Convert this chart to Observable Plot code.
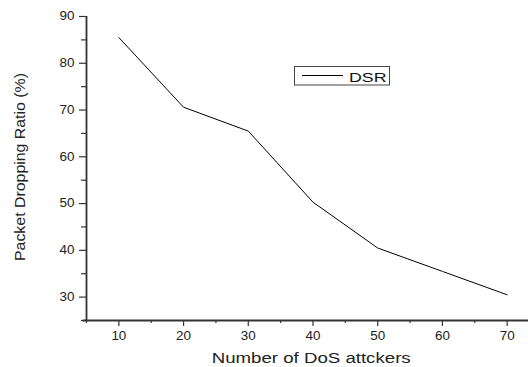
<!DOCTYPE html>
<html><head><meta charset="utf-8">
<script src="https://cdn.jsdelivr.net/npm/d3@7"></script>
<script src="https://cdn.jsdelivr.net/npm/@observablehq/plot@0.6"></script>
<style>body{margin:0;background:#fff}</style>
</head><body>
<div id="chart"></div>
<script>
const attackers = [10, 20, 30, 40, 50, 60, 70];
const dsr = [85.5, 70.6, 65.5, 50.3, 40.5, 35.5, 30.5];
const xTicks = [10, 20, 30, 40, 50, 60, 70];
const xMinor = [5, 15, 25, 35, 45, 55, 65, 75];
const yTicks = [30, 40, 50, 60, 70, 80, 90];
const yMinor = [25, 35, 45, 55, 65, 75, 85];
const xTitle = "Number of DoS attckers";
const yTitle = "Packet Dropping Ratio (%)";
const seriesName = "DSR";

const data = attackers.map((x, i) => ({x, y: dsr[i]}));
const ax = "#333";
const font = "'Liberation Sans', Arial, sans-serif";

const plot = Plot.plot({
  width: 528, height: 367,
  marginLeft: 86, marginRight: -11, marginTop: 16, marginBottom: 47,
  style: {fontFamily: font, fontSize: "12px", color: "#222", background: "#fff", overflow: "hidden"},
  x: {domain: [5, 75]},
  y: {domain: [25, 90]},
  marks: [
    Plot.axisX(xTicks, {tickSize: 6, tickPadding: 5, stroke: ax, strokeWidth: 1.2, label: null}),
    Plot.axisX(xMinor, {tickSize: 3, tickFormat: () => "", stroke: ax, strokeWidth: 1.2, label: null}),
    Plot.axisY(yTicks, {tickSize: 7, tickPadding: 5, stroke: ax, strokeWidth: 1.2, label: null}),
    Plot.axisY(yMinor, {tickSize: 5, tickFormat: () => "", stroke: ax, strokeWidth: 1.2, label: null}),
    Plot.ruleX([5], {stroke: ax, strokeWidth: 1.8}),
    Plot.ruleY([25], {stroke: ax, strokeWidth: 1.8, x1: 4.5, x2: 75}),
    Plot.line(data, {x: "x", y: "y", stroke: "#000", strokeWidth: 1})
  ]
});
document.getElementById("chart").appendChild(plot);

const svg = d3.select(plot);
// slightly wider tick labels, as in the reference
svg.selectAll("text").each(function() {
  const t = this.textContent;
  if (!t) return;
  const len = this.getComputedTextLength();
  this.setAttribute("textLength", len * 1.12);
  this.setAttribute("lengthAdjust", "spacingAndGlyphs");
});

// axis titles
svg.append("text").text(xTitle)
  .attr("x", 211.7).attr("y", 362.7).attr("text-anchor", "start")
  .attr("font-family", font).attr("font-size", 14).attr("fill", "#222")
  .attr("textLength", 199).attr("lengthAdjust", "spacingAndGlyphs");
svg.append("text").text(yTitle)
  .attr("transform", "translate(25,167) rotate(-90)")
  .attr("text-anchor", "middle")
  .attr("font-family", font).attr("font-size", 14).attr("fill", "#222")
  .attr("textLength", 188).attr("lengthAdjust", "spacingAndGlyphs");

// legend
const lg = svg.append("g");
lg.append("rect").attr("x", 294.5).attr("y", 66.5).attr("width", 95).attr("height", 18.5)
  .attr("fill", "#fff").attr("stroke", "#444").attr("stroke-width", 1);
lg.append("line").attr("x1", 302).attr("x2", 343).attr("y1", 75.5).attr("y2", 75.5)
  .attr("stroke", "#000").attr("stroke-width", 1);
lg.append("text").text(seriesName).attr("x", 349).attr("y", 82.3).attr("text-anchor", "start")
  .attr("font-family", font).attr("font-size", 13.5).attr("fill", "#111")
  .attr("textLength", 37.5).attr("lengthAdjust", "spacingAndGlyphs");
</script>
</body></html>
